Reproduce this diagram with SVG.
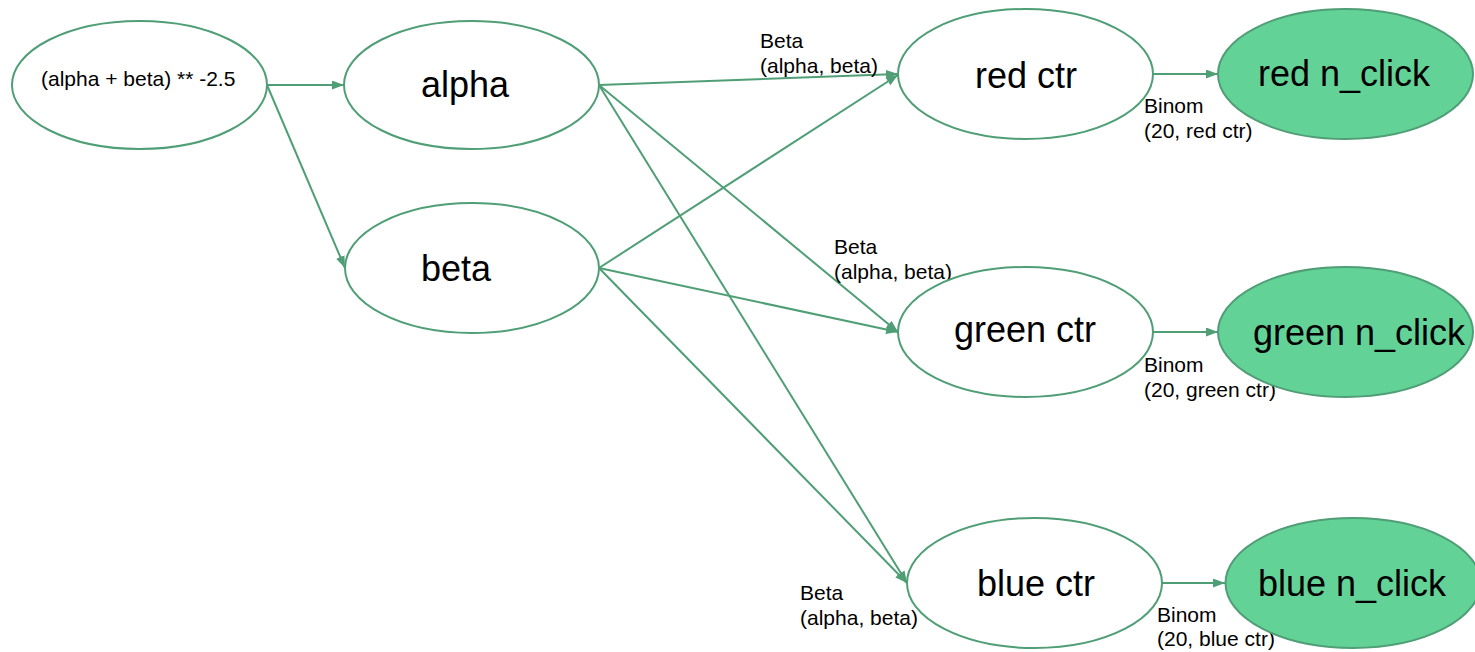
<svg xmlns="http://www.w3.org/2000/svg" width="1475" height="652" viewBox="0 0 1475 652">
<style>
.node{fill:#ffffff;stroke:#4f9e76;stroke-width:2}
.obs{fill:#63d297;stroke:#4f9e76;stroke-width:2}
.big{font-family:"Liberation Sans",Arial,sans-serif;font-size:36px;fill:#000}
.small{font-family:"Liberation Sans",Arial,sans-serif;font-size:21px;fill:#000}
.edge{stroke:#4f9e76;stroke-width:2;fill:none;marker-end:url(#arr)}
</style>
<defs>
<marker id="arr" markerUnits="userSpaceOnUse" markerWidth="13" markerHeight="10" refX="12" refY="4.5" orient="auto">
<path d="M0,0 L12,4.5 L0,9 z" fill="#4f9e76"/>
</marker>
</defs>
<rect width="1475" height="652" fill="#ffffff"/>
<g id="connectors">
<line class="edge" x1="267" y1="85" x2="344" y2="85"/>
<line class="edge" x1="267" y1="85" x2="345" y2="268"/>
<line class="edge" x1="599" y1="85" x2="898" y2="74"/>
<line class="edge" x1="599" y1="85" x2="898" y2="332"/>
<line class="edge" x1="599" y1="85" x2="907" y2="583"/>
<line class="edge" x1="599" y1="268" x2="898" y2="75"/>
<line class="edge" x1="599" y1="268" x2="898" y2="332"/>
<line class="edge" x1="599" y1="268" x2="907" y2="583"/>
<line class="edge" x1="1153" y1="74" x2="1218" y2="74"/>
<line class="edge" x1="1153" y1="332" x2="1218" y2="332"/>
<line class="edge" x1="1162" y1="583" x2="1225" y2="583"/>
<text class="small" x="760" y="48">Beta</text>
<text class="small" x="760" y="73">(alpha, beta)</text>
<text class="small" x="834" y="254">Beta</text>
<text class="small" x="834" y="279">(alpha, beta)</text>
<text class="small" x="800" y="600">Beta</text>
<text class="small" x="800" y="625">(alpha, beta)</text>
<text class="small" x="1144" y="113">Binom</text>
<text class="small" x="1144" y="138">(20, red ctr)</text>
<text class="small" x="1144" y="372">Binom</text>
<text class="small" x="1144" y="397">(20, green ctr)</text>
<text class="small" x="1157" y="622">Binom</text>
<text class="small" x="1157" y="646">(20, blue ctr)</text>
</g>
<g id="root">
<ellipse class="node" cx="139.5" cy="85" rx="127.5" ry="64"/>
<text class="small" x="41" y="86">(alpha + beta) ** -2.5</text>
</g>
<g id="alpha">
<ellipse class="node" cx="471.5" cy="85" rx="127.5" ry="64"/>
<text class="big" x="421" y="97">alpha</text>
</g>
<g id="beta">
<ellipse class="node" cx="472" cy="268" rx="127" ry="65"/>
<text class="big" x="421" y="281">beta</text>
</g>
<g id="red_ctr">
<ellipse class="node" cx="1025.5" cy="74" rx="127.5" ry="65"/>
<text class="big" x="975" y="88">red ctr</text>
</g>
<g id="green_ctr">
<ellipse class="node" cx="1025.5" cy="332" rx="127.5" ry="65"/>
<text class="big" x="954" y="342">green ctr</text>
</g>
<g id="blue_ctr">
<ellipse class="node" cx="1034.5" cy="583" rx="127.5" ry="65"/>
<text class="big" x="977" y="596">blue ctr</text>
</g>
<g id="red_n_click">
<ellipse class="obs" cx="1345.5" cy="74" rx="127.5" ry="65"/>
<text class="big" x="1258" y="86">red n_click</text>
</g>
<g id="green_n_click">
<ellipse class="obs" cx="1345.5" cy="332" rx="127.5" ry="65"/>
<text class="big" x="1253" y="345">green n_click</text>
</g>
<g id="blue_n_click">
<ellipse class="obs" cx="1353" cy="583" rx="127.5" ry="65"/>
<text class="big" x="1258" y="596">blue n_click</text>
</g>
</svg>
